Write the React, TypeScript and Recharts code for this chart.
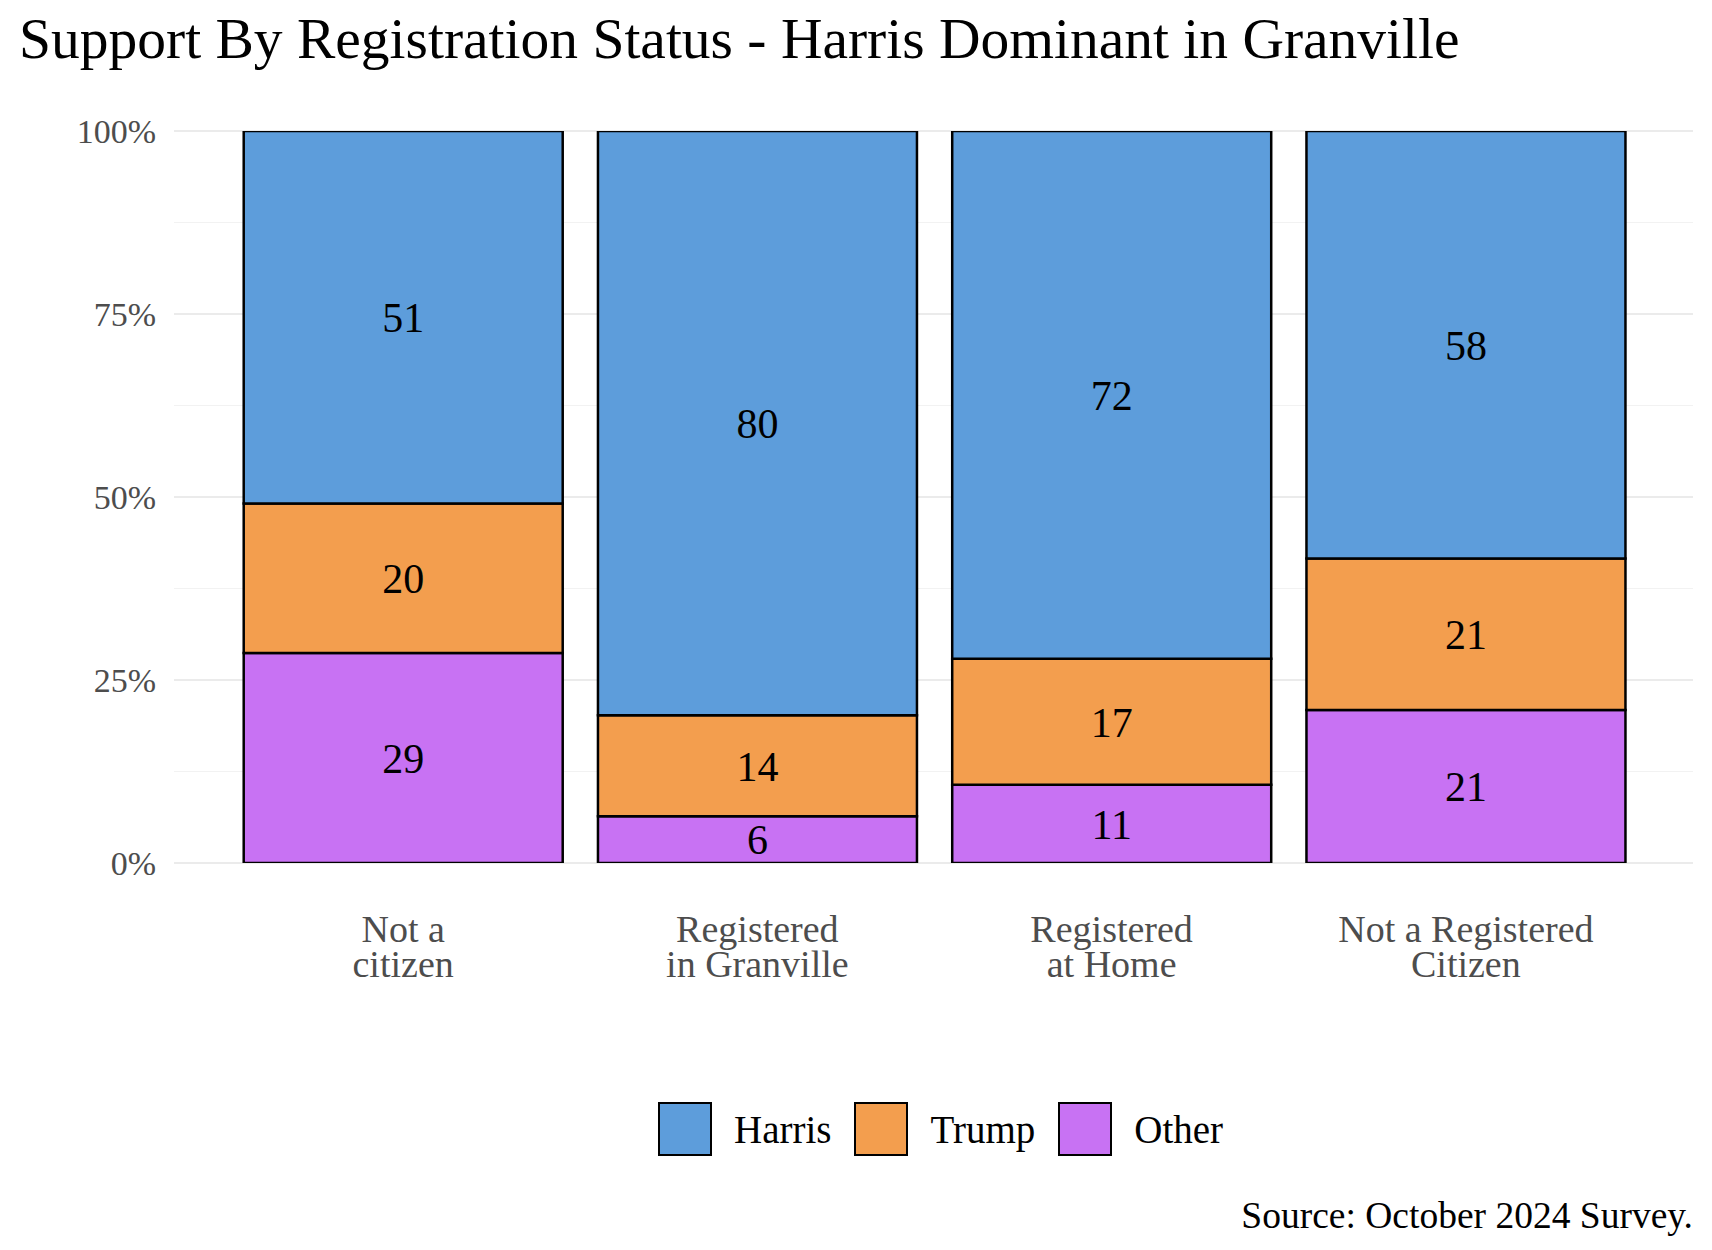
import { BarChart, Bar, XAxis, YAxis, CartesianGrid, LabelList } from 'recharts'

const FONT = '"Liberation Serif", "Times New Roman", serif'

// data (percent of respondents)
const categories = ['Not a\ncitizen', 'Registered\nin Granville', 'Registered\nat Home', 'Not a Registered\nCitizen']
const harris = [50.9, 79.8, 72.4, 58.4]
const trump = [20.4, 13.8, 17.2, 20.7]
const other = [28.7, 6.4, 10.7, 20.9]

const majorTicks = [0, 25, 50, 75, 100]
const minorTicks = [12.5, 37.5, 62.5, 87.5]
const Y_DOMAIN = [0, 100]

const SERIES = [
  { key: 'harris', name: 'Harris', color: '#5d9ddb' },
  { key: 'trump', name: 'Trump', color: '#f39e4e' },
  { key: 'other', name: 'Other', color: '#c872f3' },
]

const rows = categories.map((c, i) => ({
  category: c,
  harris: harris[i],
  trump: trump[i],
  other: other[i],
}))

function CategoryTick({ x, y, payload }: any) {
  const lines = String(payload.value).split('\n')
  return (
    <text x={x} y={y} textAnchor="middle" fill="#4d4d4d" fontSize={38} fontFamily={FONT}>
      {lines.map((l, i) => (
        <tspan key={i} x={x} dy={i === 0 ? 79 : 35}>{l}</tspan>
      ))}
    </text>
  )
}

const round = (v: any) => Math.round(Number(v))

export default function App() {
  // stacking goes bottom-up, so Other first, Harris on top
  const stackOrder = [...SERIES].reverse()

  return (
    <div style={{ position: 'absolute', left: 0, top: 0, width: 1712, height: 1250, background: '#fff', fontFamily: FONT }}>
      <div style={{ position: 'absolute', left: 19, top: 10, fontSize: 57.5, lineHeight: 1, color: '#000', whiteSpace: 'nowrap' }}>
        Support By Registration Status - Harris Dominant in Granville
      </div>

      <div style={{ position: 'absolute', left: 0, top: 0 }}>
        <BarChart
          width={1712}
          height={1000}
          data={rows}
          margin={{ top: 131, right: 19, bottom: 0, left: 0 }}
          barCategoryGap="5%"
        >
          {/* minor grid first so it sits under the major lines */}
          <CartesianGrid vertical={false} yAxisId="minor" stroke="#f2f2f2" strokeWidth={1.2} />
          <CartesianGrid vertical={false} stroke="#ebebeb" strokeWidth={2} />
          <XAxis
            dataKey="category"
            axisLine={false}
            tickLine={false}
            tickSize={0}
            tickMargin={0}
            height={137}
            padding={{ left: 52, right: 50 }}
            interval={0}
            tick={<CategoryTick />}
          />
          <YAxis
            domain={Y_DOMAIN}
            allowDataOverflow
            ticks={majorTicks}
            axisLine={false}
            tickLine={false}
            width={174}
            tickMargin={12}
            tickFormatter={(v: number) => `${v}%`}
            tick={{ fill: '#4d4d4d', fontSize: 34, fontFamily: FONT }}
          />
          <YAxis
            yAxisId="minor"
            domain={Y_DOMAIN}
            allowDataOverflow
            ticks={minorTicks}
            interval={0}
            width={0}
            tick={() => <g />}
            axisLine={false}
            tickLine={false}
          />
          {stackOrder.map((s) => (
            <Bar
              key={s.key}
              dataKey={s.key}
              name={s.name}
              stackId="a"
              fill={s.color}
              stroke="#000"
              strokeWidth={2.5}
              isAnimationActive={false}
            >
              <LabelList
                dataKey={s.key}
                position="center"
                formatter={round}
                fill="#000"
                fontSize={42}
                fontFamily={FONT}
              />
            </Bar>
          ))}
        </BarChart>
      </div>

      {/* legend */}
      <div style={{ position: 'absolute', left: 658, top: 1102, height: 54, display: 'flex', alignItems: 'center' }}>
        {SERIES.map((s) => (
          <div key={s.key} style={{ display: 'flex', alignItems: 'center' }}>
            <div style={{ width: 54, height: 54, boxSizing: 'border-box', border: '2.5px solid #000', background: s.color }} />
            <span style={{ fontSize: 39, marginLeft: 22, marginRight: 23, color: '#000' }}>{s.name}</span>
          </div>
        ))}
      </div>

      <div style={{ position: 'absolute', right: 19, top: 1197, fontSize: 37.5, lineHeight: 1, color: '#000', whiteSpace: 'nowrap' }}>
        Source: October 2024 Survey.
      </div>
    </div>
  )
}
